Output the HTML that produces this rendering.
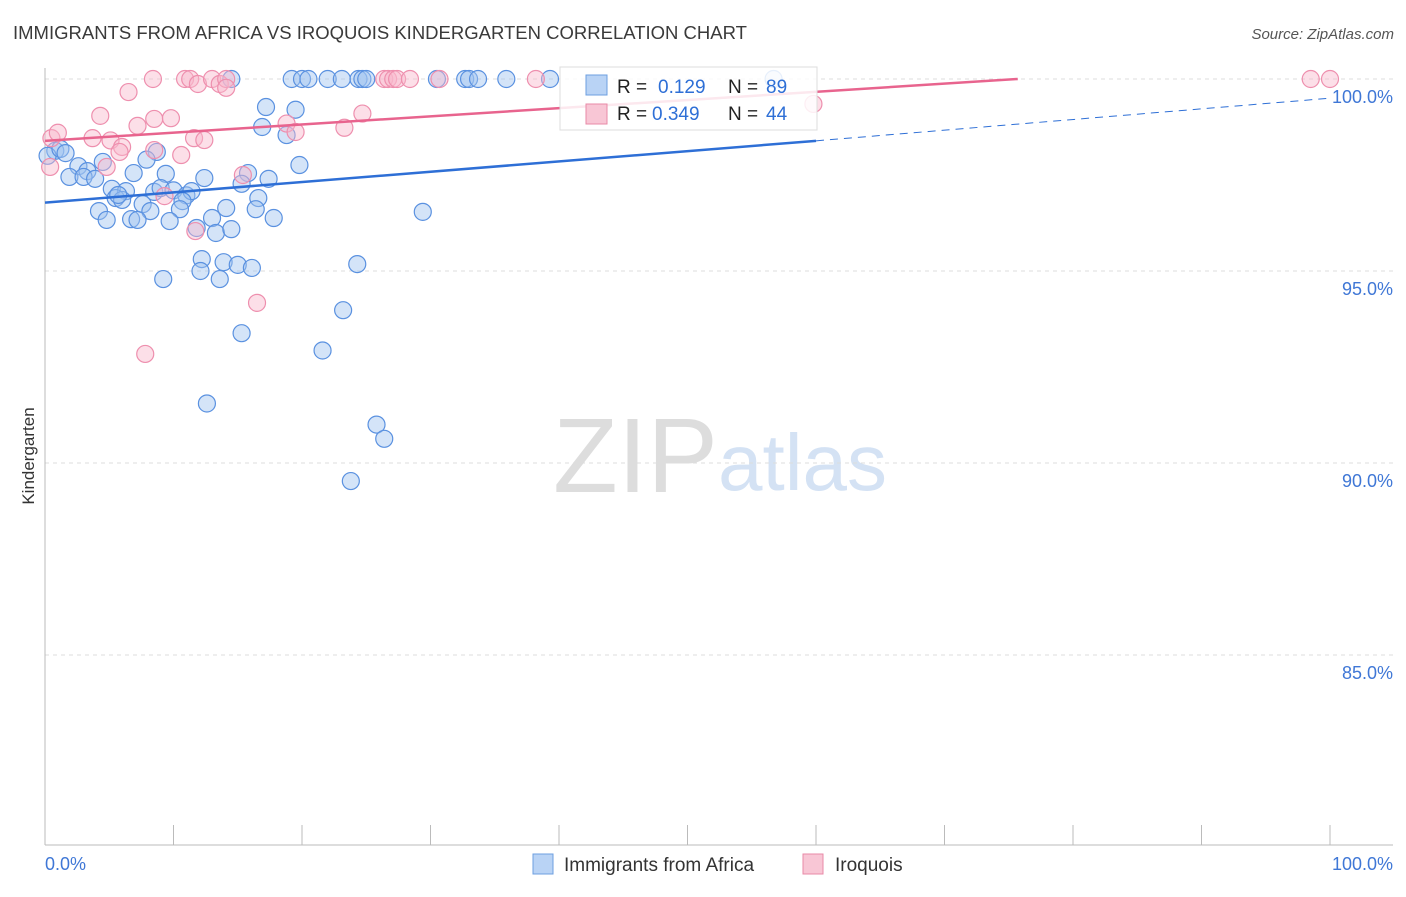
<!DOCTYPE html>
<html><head><meta charset="utf-8"><style>
body{margin:0;background:#fff;font-family:"Liberation Sans",sans-serif;}
svg text{font-family:"Liberation Sans",sans-serif;}
</style></head><body>
<svg id="chart" width="1406" height="892" xmlns="http://www.w3.org/2000/svg">
<text x="13" y="39" font-size="18.5" fill="#3a3a3a">IMMIGRANTS FROM AFRICA VS IROQUOIS KINDERGARTEN CORRELATION CHART</text>
<text x="1394" y="39" font-size="15" fill="#555" font-style="italic" text-anchor="end">Source: ZipAtlas.com</text>
<g><text x="553" y="492" font-size="106" fill="#ddd" font-family="Liberation Serif,serif">ZIP</text><text x="718" y="490" font-size="80" fill="#d4e2f4">atlas</text></g>
<g id="grid"></g>
<g id="axes"></g>
<g id="marks"></g>
<g id="trends"></g>
<text transform="translate(34,456) rotate(-90)" font-size="17" fill="#333" text-anchor="middle">Kindergarten</text>
<g>
<rect x="560" y="67" width="257" height="63" fill="rgba(255,255,255,0.85)" stroke="#ddd"/>
<rect x="586" y="75" width="21" height="20" fill="#b9d3f5" stroke="#6d9fe0"/>
<text x="617" y="93" font-size="19" fill="#222">R = </text><text x="658" y="93" font-size="19" fill="#2e6fd6">0.129</text>
<text x="728" y="93" font-size="19" fill="#222">N = </text><text x="766" y="93" font-size="19" fill="#2e6fd6">89</text>
<rect x="586" y="104" width="21" height="20" fill="#f8c6d5" stroke="#e88aa7"/>
<text x="617" y="120" font-size="19" fill="#222">R = </text><text x="652" y="120" font-size="19" fill="#2e6fd6">0.349</text>
<text x="728" y="120" font-size="19" fill="#222">N = </text><text x="766" y="120" font-size="19" fill="#2e6fd6">44</text>
</g>
<g>
<rect x="533" y="854" width="20" height="20" fill="#b9d3f5" stroke="#6d9fe0"/>
<text x="564" y="871" font-size="19" fill="#333">Immigrants from Africa</text>
<rect x="803" y="854" width="20" height="20" fill="#f8c6d5" stroke="#e88aa7"/>
<text x="835" y="871" font-size="19" fill="#333">Iroquois</text>
</g>
</svg>
<script>
const yTicks=[100,95,90,85];
const yTickLabels=["100.0%","95.0%","90.0%","85.0%"];
const xTicks=[0,10,20,30,40,50,60,70,80,90,100];
const africaX=[14.5,19.2,20,20.5,22,23.1,24.4,24.7,25,30.5,32.7,33,33.7,35.9,39.3,56.7,17.2,19.5,16.9,18.8,8.7,7.9,19.8,0.8,0.2,1.2,1.6,2.6,4.5,3.3,1.9,3,3.9,6.9,9.4,15.8,12.4,17.4,15.3,5.2,6.3,8.5,9,10,11,11.4,5.5,6,5.7,7.6,10.7,16.6,16.4,10.5,4.2,8.2,14.1,13,4.8,6.7,7.2,9.7,11.8,13.3,14.5,17.8,29.4,12.2,12.1,13.9,15,16.1,24.3,9.2,13.6,23.2,15.3,21.6,12.6,25.8,26.4,23.8];
const africaY=[100,100,100,100,100,100,100,100,100,100,100,100,100,100,100,100,99.27,99.2,98.75,98.54,98.1,97.9,97.76,98.13,98,98.18,98.07,97.73,97.84,97.6,97.45,97.45,97.4,97.55,97.53,97.55,97.42,97.4,97.27,97.14,97.08,97.06,97.16,97.1,96.97,97.08,96.9,96.85,96.98,96.74,96.82,96.9,96.61,96.61,96.56,96.56,96.64,96.38,96.33,96.35,96.33,96.3,96.12,95.99,96.09,96.38,96.54,95.31,95.0,95.23,95.16,95.08,95.18,94.79,94.79,93.98,93.38,92.93,91.55,91.0,90.63,89.53];
const iroqX=[8.4,10.9,11.3,11.9,13,13.6,14.1,14.1,26.4,26.7,27.1,27.4,28.4,30.7,38.2,98.5,100,6.5,4.3,8.5,9.8,7.2,8.5,11.6,3.7,5.1,6,5.8,12.4,10.6,4.8,9.3,11.7,15.4,18.8,19.5,23.3,24.7,59.8,16.5,7.8,0.4,0.5,1];
const iroqY=[100,100,100,99.87,100,99.87,100,99.77,100,100,100,100,100,100,100,100,100,99.66,99.04,98.96,98.98,98.78,98.15,98.46,98.46,98.4,98.23,98.1,98.41,98.02,97.71,96.95,96.04,97.5,98.84,98.62,98.73,99.1,99.35,94.17,92.84,97.71,98.46,98.6];
const trendAfrica=[0,96.78,60,98.39,100,99.5];
const trendIroq=[0,98.39,75.7,100];
const X=v=>45+v*12.85, Y=v=>79+(100-v)*38.4;
const ns="http://www.w3.org/2000/svg";
function mk(p,t,a){const e=document.createElementNS(ns,t);for(const k in a)e.setAttribute(k,a[k]);document.getElementById(p).appendChild(e);return e;}
yTicks.forEach((t,i)=>{
 const g=mk('grid','line',{x1:45,x2:1393,y1:Y(t),y2:Y(t),stroke:'#ddd','stroke-dasharray':'4,4'});
 
 
 const l=mk('axes','text',{x:1393,y:Y(t)+24,'font-size':18,fill:'#3f77d6','text-anchor':'end'});l.textContent=yTickLabels[i];
 
 
});
const ax=mk('axes','line',{x1:45,x2:45,y1:68,y2:845,stroke:'#bbb'});


const bx=mk('axes','line',{x1:45,x2:1393,y1:845,y2:845,stroke:'#bbb'});


xTicks.forEach(t=>{const e=mk('axes','line',{x1:X(t),x2:X(t),y1:825,y2:845,stroke:'#bbb'});
 
 });
[[0,'0.0%','start',45],[100,'100.0%','end',1393]].forEach(a=>{const e=mk('axes','text',{x:a[3],y:870,'font-size':18,fill:'#3f77d6','text-anchor':a[2]});e.textContent=a[1];
 
 });
africaX.forEach((v,i)=>{const c=mk('marks','circle',{cx:X(v),cy:Y(africaY[i]),r:8.5,fill:'rgba(160,195,240,0.45)',stroke:'#5a91e0','stroke-width':1.2});
 
 });
iroqX.forEach((v,i)=>{const c=mk('marks','circle',{cx:X(v),cy:Y(iroqY[i]),r:8.5,fill:'rgba(248,185,205,0.45)',stroke:'#ee8fae','stroke-width':1.2});
 
 });
const t1=mk('trends','line',{x1:X(trendAfrica[0]),y1:Y(trendAfrica[1]),x2:X(trendAfrica[2]),y2:Y(trendAfrica[3]),stroke:'#2e6fd6','stroke-width':2.5});


const t2=mk('trends','line',{x1:X(trendAfrica[2]),y1:Y(trendAfrica[3]),x2:X(trendAfrica[4]),y2:Y(trendAfrica[5]),stroke:'#2e6fd6','stroke-width':1,'stroke-dasharray':'8,6'});


const t3=mk('trends','line',{x1:X(trendIroq[0]),y1:Y(trendIroq[1]),x2:X(trendIroq[2]),y2:Y(trendIroq[3]),stroke:'#e8648e','stroke-width':2.5});


</script>
</body></html>
